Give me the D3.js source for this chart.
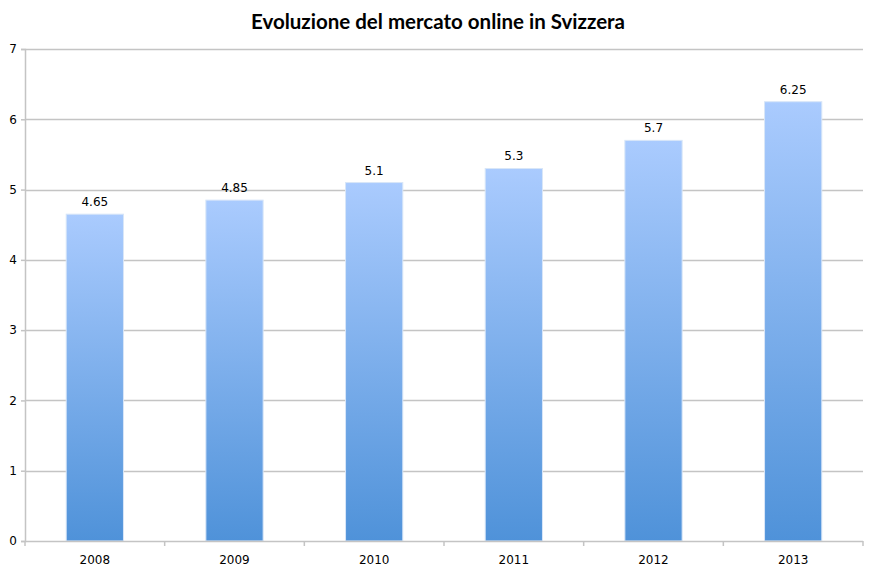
<!DOCTYPE html>
<html><head><meta charset="utf-8">
<script src="https://cdn.jsdelivr.net/npm/d3@7"></script>
<style>body{margin:0;background:#fff;}svg{display:block;}</style>
</head><body>
<svg id="c" width="875" height="573"></svg>
<script>
const title = "Evoluzione del mercato online in Svizzera";
const categories = ["2008","2009","2010","2011","2012","2013"];
const values = [4.65, 4.85, 5.1, 5.3, 5.7, 6.25];
const valueLabels = ["4.65","4.85","5.1","5.3","5.7","6.25"];
const yTicks = [0,1,2,3,4,5,6,7];

const svg = d3.select("#c");
const m = {left:25, right:12, top:49, bottom:32};
const W = 875, H = 573;
const x = d3.scaleBand().domain(categories).range([m.left, W - m.right]).paddingInner(0.59).paddingOuter(0.295);
const xb = d3.scaleBand().domain(categories).range([m.left, W - m.right]);
const y = d3.scaleLinear().domain([0,7]).range([H - m.bottom, m.top]);

const defs = svg.append("defs");
const g = defs.append("linearGradient").attr("id","bg").attr("x1",0).attr("y1",0).attr("x2",0).attr("y2",1);
g.append("stop").attr("offset","0%").attr("stop-color","#aacbfe");
g.append("stop").attr("offset","100%").attr("stop-color","#4f92d9");

// gridlines
svg.append("g").selectAll("line").data(yTicks.filter(d=>d>0)).join("line")
  .attr("x1", m.left).attr("x2", W - m.right)
  .attr("y1", d=>Math.round(y(d))+0.5).attr("y2", d=>Math.round(y(d))+0.5)
  .attr("stroke","#c4c4c4").attr("stroke-width",1.5);

// y axis
const ya = svg.append("g").attr("transform",`translate(${m.left},0)`)
  .call(d3.axisLeft(y).tickValues(yTicks).tickSize(4).tickFormat(d3.format("d")));
ya.select(".domain").attr("stroke","#c4c4c4").attr("stroke-width",1.5);
ya.selectAll(".tick line").attr("stroke","#c4c4c4").attr("stroke-width",1.5);
ya.selectAll("text").attr("font-family","Tahoma, 'DejaVu Sans', sans-serif").attr("font-size",12).attr("fill","#000").attr("dx",-1);

// bars
svg.append("g").selectAll("rect").data(values).join("rect")
  .attr("x",(d,i)=>x(categories[i]))
  .attr("width",x.bandwidth())
  .attr("y",d=>y(d))
  .attr("height",d=>y(0)-y(d))
  .attr("fill","url(#bg)")
  .attr("stroke","#d8e6f8").attr("stroke-width",1);

// x axis
const xa = svg.append("g").attr("transform",`translate(0,${y(0)})`);
xa.append("line").attr("x1",m.left).attr("x2",W-m.right).attr("y1",0.5).attr("y2",0.5)
  .attr("stroke","#c4c4c4").attr("stroke-width",1.5);
const bounds = categories.map(c=>xb(c)).concat([W-m.right]);
xa.selectAll("line.t").data(bounds).join("line").attr("class","t")
  .attr("x1",d=>d).attr("x2",d=>d).attr("y1",0).attr("y2",5)
  .attr("stroke","#c4c4c4").attr("stroke-width",1.5);
xa.selectAll("text").data(categories).join("text")
  .attr("x",d=>xb(d)+xb.bandwidth()/2).attr("y",23)
  .attr("text-anchor","middle")
  .attr("font-family","Tahoma, 'DejaVu Sans', sans-serif").attr("font-size",12).attr("fill","#000")
  .text(d=>d);

// value labels
svg.append("g").selectAll("text").data(values).join("text")
  .attr("x",(d,i)=>x(categories[i])+x.bandwidth()/2)
  .attr("y",d=>y(d)-8)
  .attr("text-anchor","middle")
  .attr("font-family","Tahoma, 'DejaVu Sans', sans-serif").attr("font-size",12).attr("fill","#000")
  .text((d,i)=>valueLabels[i]);

// title
svg.append("text").attr("x",438).attr("y",29).attr("text-anchor","middle")
  .attr("font-family","Lato, 'Open Sans', sans-serif").attr("font-weight","bold").attr("font-size",20.5).attr("fill","#000")
  .text(title);
</script>
</body></html>
